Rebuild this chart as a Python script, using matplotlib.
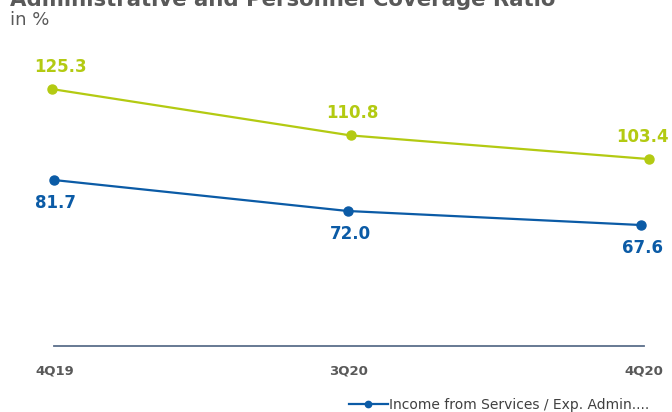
import matplotlib.pyplot as plt

# quarterly coverage ratios, in %
quarters = ["4Q19", "3Q20", "4Q20"]
services_ratio = [81.7, 72.0, 67.6]      # income from services / admin expenses
coverage_ratio = [125.3, 110.8, 103.4]   # green series

BLUE = "#0B5BA6"
GREEN = "#B3CA12"
GREY = "#595959"

fig = plt.figure(figsize=(6.72, 4.12), dpi=100)

# blue series axes (carries the baseline and the category labels)
ax = fig.add_axes([54 / 672, 66 / 412, 590 / 672, 286 / 412])
# green series sits on its own scale
ax2 = fig.add_axes([52 / 672, 66 / 412, 597 / 672, 286 / 412])
ax2.patch.set_alpha(0)

x = list(range(len(quarters)))

ln, = ax.plot(x, services_ratio, "-o", color=BLUE, lw=1.6, ms=6.5, clip_on=False,
              label="Income from Services / Exp. Admin....")
ax2.plot(x, coverage_ratio, "-o", color=GREEN, lw=1.6, ms=6.5, clip_on=False)

ax.set_xlim(0, 2)
ax.set_ylim(29.7, 119.3)
ax2.set_xlim(0, 2)
ax2.set_ylim(44.9, 134.4)

for a in (ax, ax2):
    for s in a.spines.values():
        s.set_visible(False)
    a.set_yticks([])
ax2.set_xticks([])

ax.spines["bottom"].set_visible(True)
ax.spines["bottom"].set_color("#5B6E8A")
ax.spines["bottom"].set_linewidth(1.3)
ax.set_xticks([0.003, 1.003, 2.01], quarters)
ax.tick_params(axis="x", length=0, pad=13, labelsize=9.5, labelcolor=GREY)
for t in ax.get_xticklabels():
    t.set_fontweight("bold")

# value labels
blue_dx = [1, 3, 1]
green_dx = [8, 2, -6]
for xi, v, dx in zip(x, services_ratio, blue_dx):
    ax.annotate(f"{v:.1f}", (xi, v), xytext=(dx, -23), textcoords="offset pixels",
                ha="center", va="center", color=BLUE, fontsize=12, fontweight="bold")
for xi, v, dx in zip(x, coverage_ratio, green_dx):
    ax2.annotate(f"{v:.1f}", (xi, v), xytext=(dx, 22), textcoords="offset pixels",
                 ha="center", va="center", color=GREEN, fontsize=12, fontweight="bold")

fig.text(10 / 672, 1 - 5.5 / 412, "Administrative and Personnel Coverage Ratio",
         ha="left", va="baseline", fontsize=15.3, fontweight="bold", color=GREY)
fig.text(10 / 672, 1 - 20 / 412, "in %", ha="left", va="center",
         fontsize=13, color=GREY)

fig.legend(handles=[ln], loc="center left", bbox_to_anchor=(349 / 672, 1 - 405 / 412),
           frameon=False, fontsize=10, handlelength=2.8, handletextpad=0.1,
           borderaxespad=0, borderpad=0, labelcolor="#404040", markerscale=0.7)

fig.savefig("out.png", dpi=100)
